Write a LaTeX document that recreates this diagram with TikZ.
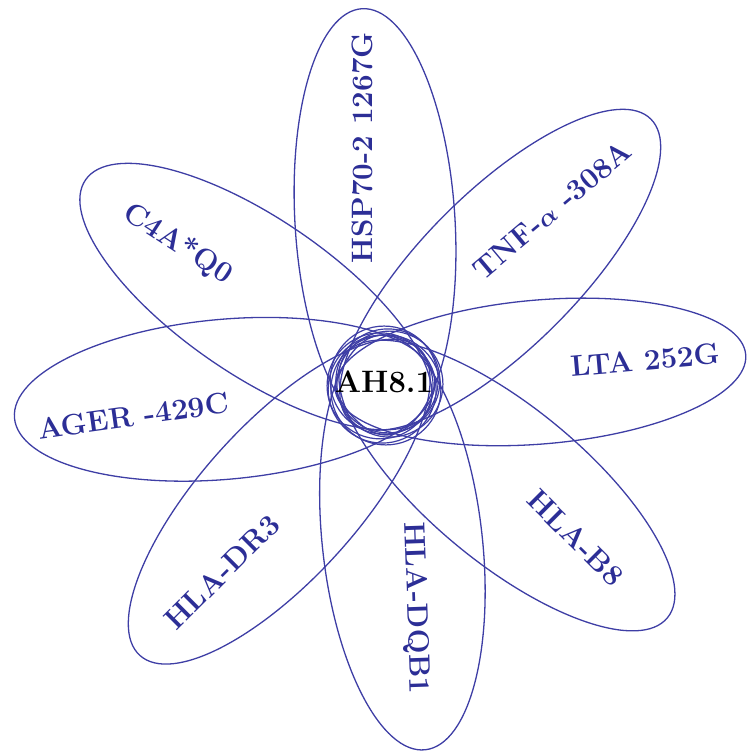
\documentclass[tikz,border=0pt]{standalone}
\usepackage{fontspec}
\usetikzlibrary{calc}
\definecolor{petalline}{RGB}{62,62,165}
\definecolor{petaltext}{RGB}{44,46,150}
\tikzset{
  petal/.style={draw=petalline, line width=1.3pt},
  ring/.style={draw=petalline, line width=1.2pt},
  lbl/.style={text=petaltext, font=\fontsize{29.5}{32}\selectfont\bfseries, inner sep=0pt},
  hub/.style={text=black, font=\fontsize{31}{34}\selectfont\bfseries, inner sep=0pt}
}
\begin{document}
\begin{tikzpicture}[x=1pt,y=1pt]
\useasboundingbox (0,0) rectangle (747,751);
\coordinate (C) at (385,366);
% petals: angle / tip distance / half width
\foreach \t/\R/\b in {93.5/377/80, 45/376/78, 4.8/362/72, -39.5/366/78, -83.7/367/80, 227.8/365/78, 185.1/372/80, 145.6/363/78}{
  \pgfmathsetmacro\aa{(\R+50)/2}
  \pgfmathsetmacro\dd{(\R-50)/2}
  \pgfmathsetmacro\cx{385+\dd*cos(\t)}
  \pgfmathsetmacro\cy{366+\dd*sin(\t)}
  \draw[petal, rotate around={\t:(\cx,\cy)}] (\cx,\cy) ellipse ({\aa} and {\b});
}
% central rings
\foreach \t/\r in {10/53,100/54,190/53,280/55,55/52,235/54}{
  \draw[ring] ($(C)+(\t:5)$) circle (\r);
}
\node[hub] (hub) at (384,369) {AH8.1};
\node[lbl, rotate=90] (hsp) at (362,603) {HSP70-2 1267G};
\node[lbl, rotate=40] (tnf) at (552,541) {TNF-{\boldmath$\alpha$} -308A};
\node[lbl, rotate=5] (lta) at (645,391) {LTA 252G};
\node[lbl, rotate=-45] (b8) at (576,213) {HLA-B8};
\node[lbl, rotate=-88] (dqb) at (415,143) {HLA-DQB1};
\node[lbl, rotate=45] (dr3) at (222,179) {HLA-DR3};
\node[lbl, rotate=8] (ager) at (133,335) {AGER -429C};
\node[lbl, rotate=-33] (c4a) at (178,507) {C4A*Q0};
\end{tikzpicture}
\end{document}
